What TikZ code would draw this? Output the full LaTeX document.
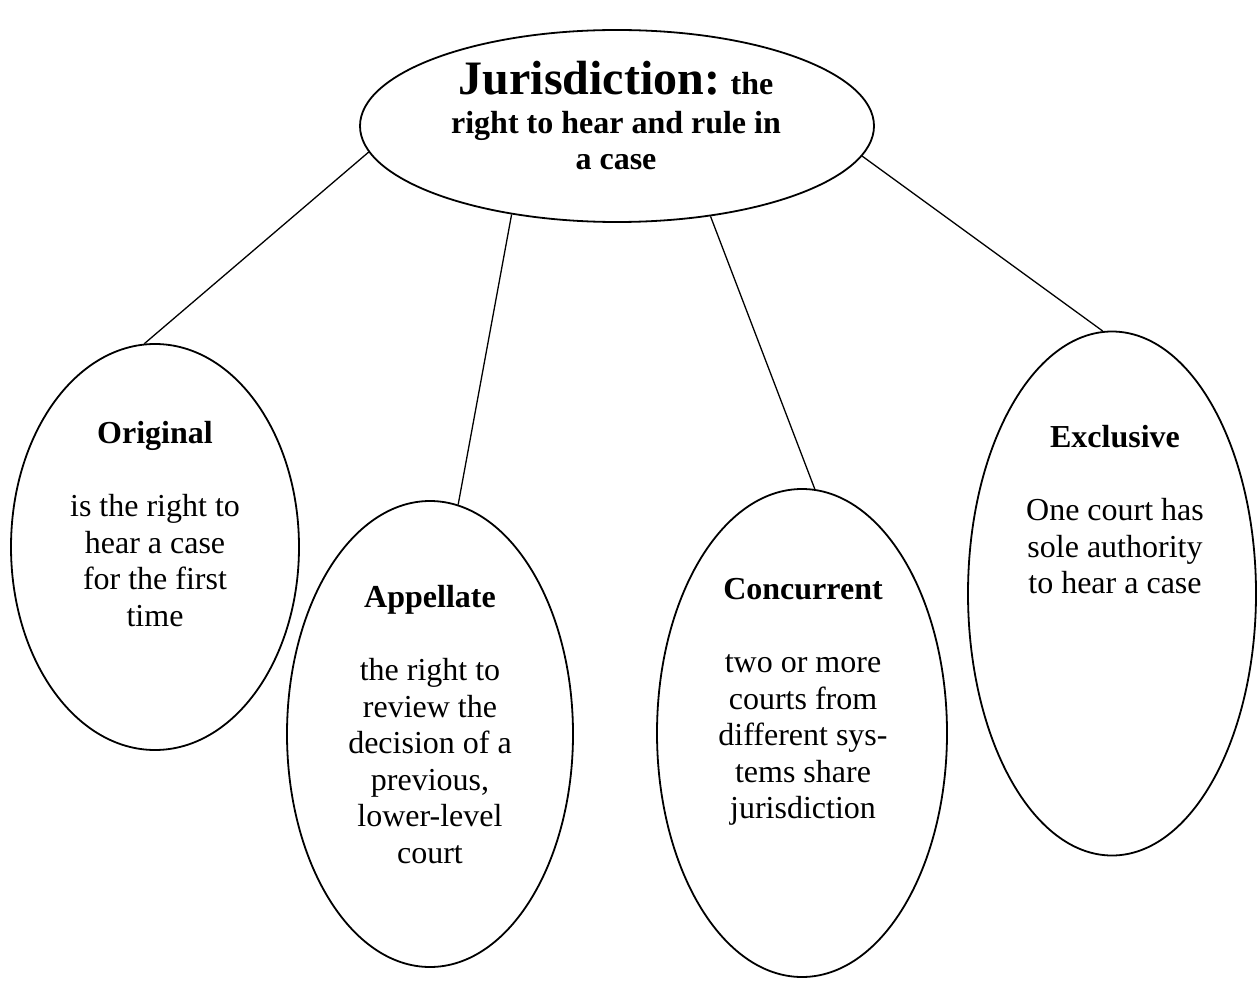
\documentclass[tikz,border=0pt]{standalone}
\usepackage{fontspec}
\setmainfont{Liberation Serif}
\usetikzlibrary{shapes.geometric}
\begin{document}
\begin{tikzpicture}[x=1pt,y=-1pt,
  bubble/.style={ellipse,draw,line width=1.8pt,inner sep=0pt},
  link/.style={line width=1.3pt},
  txt/.style={anchor=north,align=center,inner sep=0pt,font=\fontsize{32}{36.6}\selectfont}]
\useasboundingbox (0,0) rectangle (1257,981);
\node[bubble,minimum width=514pt,minimum height=192pt] (top) at (617,126) {};
\node[bubble,minimum width=288pt,minimum height=406pt] (orig) at (155,547) {};
\node[bubble,minimum width=286pt,minimum height=466pt] (app) at (430,734) {};
\node[bubble,minimum width=290pt,minimum height=488pt] (conc) at (802,733) {};
\node[bubble,minimum width=288pt,minimum height=524pt] (excl) at (1112,593.5) {};
\node[txt,font=\fontsize{32}{36.6}\selectfont\bfseries] (toptext) at (616,54)
  {\rule{0pt}{40pt}{\fontsize{48}{50}\selectfont Jurisdiction:} the\\[2.4pt] right to hear and rule in\\ a case};
\node[txt] (origtext) at (155,413)
  {\rule{0pt}{30pt}\textbf{Original}\\[36.6pt] is the right to\\ hear a case\\ for the first\\ time};
\node[txt] (apptext) at (430,577)
  {\rule{0pt}{30pt}\textbf{Appellate}\\[36.6pt] the right to\\ review the\\ decision of a\\ previous,\\ lower-level\\ court};
\node[txt] (conctext) at (803,569)
  {\rule{0pt}{30pt}\textbf{Concurrent}\\[36.6pt] two or more\\ courts from\\ different sys-\\ tems share\\ jurisdiction};
\node[txt] (excltext) at (1115,417)
  {\rule{0pt}{30pt}\textbf{Exclusive}\\[36.6pt] One court has\\ sole authority\\ to hear a case};
\draw[link] (top.186.3) -- (orig.93.7);
\draw[link] (top.220.2) -- (app.83.9);
\draw[link] (top.316.3) -- (conc.87.2);
\draw[link] (top.353.4) -- (excl.92.0);
\end{tikzpicture}
\end{document}
